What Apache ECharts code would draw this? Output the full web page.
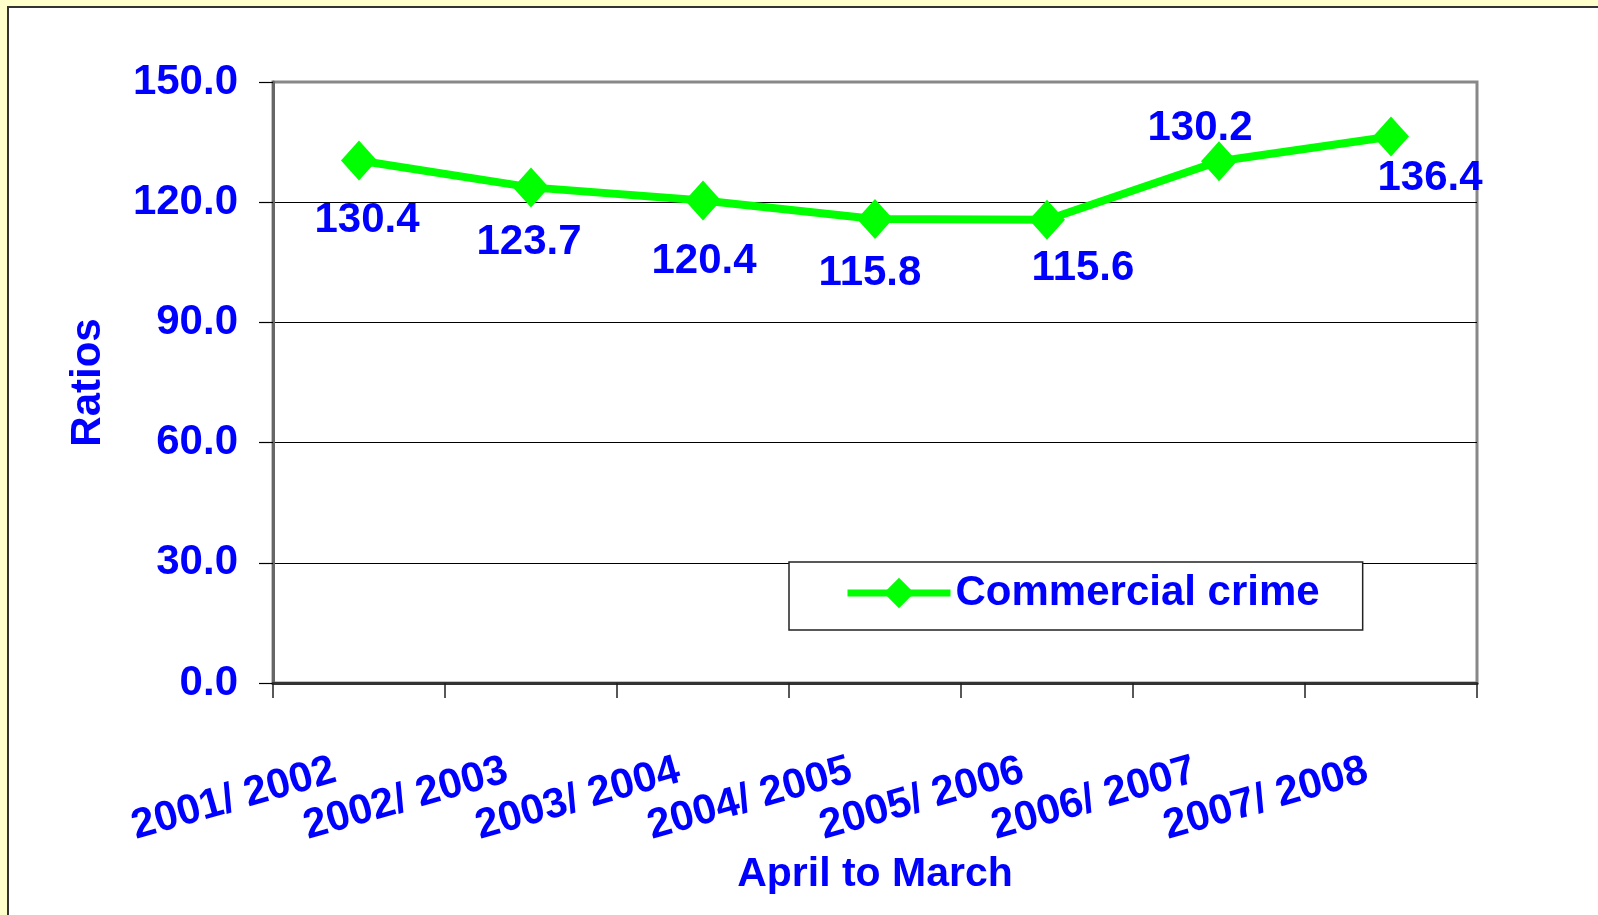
<!DOCTYPE html>
<html>
<head>
<meta charset="utf-8">
<script src="https://cdn.jsdelivr.net/npm/echarts@6/dist/echarts.min.js"></script>
<style>
  html, body { margin: 0; padding: 0; width: 1598px; height: 915px; overflow: hidden; background: #FFFFCC; }
  #panel { position: absolute; left: 7px; top: 6px; width: 1600px; height: 920px; background: #fff;
           border-left: 2px solid #333; border-top: 2px solid #333; }
  #chart { position: absolute; left: 0; top: 0; width: 1598px; height: 915px; }
</style>
</head>
<body>
<div id="panel"></div>
<div id="chart"></div>
<script>
// ---- data ----
const categories = ['2001/ 2002', '2002/ 2003', '2003/ 2004', '2004/ 2005', '2005/ 2006', '2006/ 2007', '2007/ 2008'];
const seriesName = 'Commercial crime';
const ratios = [130.4, 123.7, 120.4, 115.8, 115.6, 130.2, 136.4];
const yMin = 0, yMax = 150, yStep = 30;
const xTitle = 'April to March';
const yTitle = 'Ratios';

// ---- layout / style (not data) ----
const labelOffsets = [[8, 60], [-2, 55], [1, 61], [-5, 54], [36, 49], [-19, -33], [39, 42]];
const FONT = 'Liberation Sans, Arial, sans-serif';
const BLUE = '#0000FF';
const GREEN = '#00FF00';
const FS = 42;

const chart = echarts.init(document.getElementById('chart'), null, { renderer: 'canvas' });

const seriesData = ratios.map((v, i) => ({
  value: v,
  label: { offset: labelOffsets[i] }
}));

chart.setOption({
  backgroundColor: 'transparent',
  animation: false,
  textStyle: { fontFamily: FONT },
  grid: {
    left: 273, top: 82, right: 121, bottom: 232,
    show: true, borderColor: '#888', borderWidth: 3, backgroundColor: 'transparent'
  },
  legend: {
    left: 789, top: 562,
    padding: [10, 43, 16, 55],
    backgroundColor: '#fff',
    borderColor: '#222', borderWidth: 1.5, borderRadius: 0,
    itemWidth: 103, itemHeight: 38,
    lineStyle: { width: 7 },
    textStyle: { color: BLUE, fontSize: FS, fontWeight: 'bold', fontFamily: FONT },
    data: [seriesName]
  },
  xAxis: {
    type: 'category',
    data: categories,
    boundaryGap: true,
    name: xTitle,
    nameLocation: 'middle',
    nameGap: 159,
    nameTextStyle: { color: BLUE, fontSize: 41, fontWeight: 'bold', fontFamily: FONT },
    axisLine: { show: true, lineStyle: { color: '#333', width: 3 } },
    axisTick: { show: true, length: 15, lineStyle: { color: '#222', width: 1.5 } },
    axisLabel: {
      interval: 0, rotate: 16, margin: 80,
      color: BLUE, fontSize: FS, fontWeight: 'bold', fontFamily: FONT,
      padding: [0, 25, 0, 0]
    },
    splitLine: { show: false }
  },
  yAxis: {
    type: 'value',
    min: yMin, max: yMax, interval: yStep,
    name: yTitle,
    nameLocation: 'middle',
    nameGap: 164,
    nameRotate: 90,
    nameTextStyle: { color: BLUE, fontSize: FS, fontWeight: 'bold', fontFamily: FONT },
    axisLine: { show: true, lineStyle: { color: '#666', width: 3 } },
    axisTick: { show: true, length: 14, lineStyle: { color: '#000', width: 1.2 } },
    axisLabel: {
      margin: 35,
      color: BLUE, fontSize: FS, fontWeight: 'bold', fontFamily: FONT,
      formatter: v => v.toFixed(1)
    },
    splitLine: { show: true, showMaxLine: false, showMinLine: false, lineStyle: { color: '#000', width: 1 } }
  },
  series: [{
    name: seriesName,
    type: 'line',
    data: seriesData,
    symbol: 'diamond',
    symbolSize: [36, 40],
    itemStyle: { color: GREEN },
    lineStyle: { color: GREEN, width: 8 },
    label: {
      show: true,
      position: 'inside',
      align: 'center',
      verticalAlign: 'middle',
      color: BLUE, fontSize: FS, fontWeight: 'bold', fontFamily: FONT,
      formatter: p => p.value.toFixed(1)
    },
    z: 5
  }]
});
</script>
</body>
</html>
